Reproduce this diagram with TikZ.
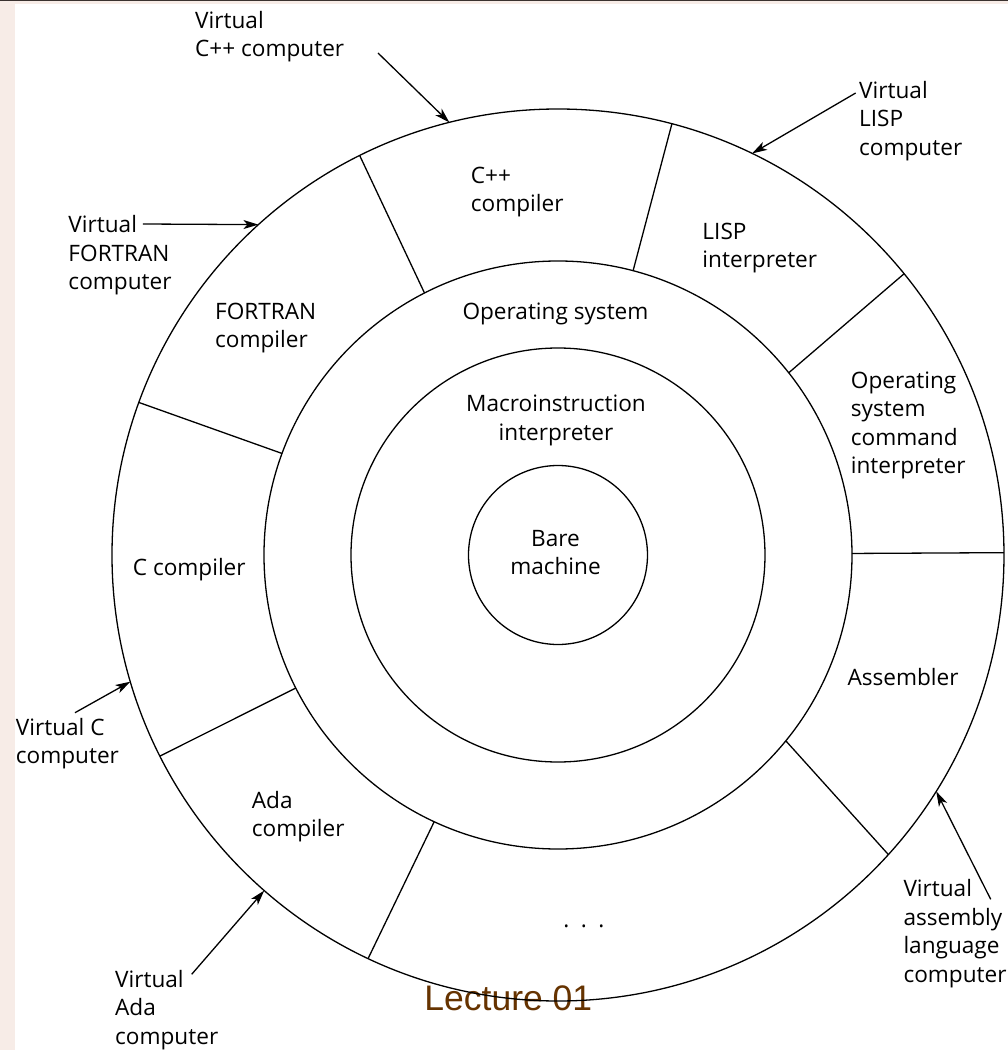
\documentclass[tikz,border=0pt]{standalone}
\usepackage{fontspec}
\setmainfont{Open Sans}
\newfontfamily\lecfont{Liberation Sans}
\usetikzlibrary{arrows.meta}
\definecolor{slidepink}{RGB}{247,236,231}
\definecolor{slideline}{RGB}{58,50,48}
\definecolor{lecbrown}{RGB}{102,51,0}
\tikzset{
  ring/.style={line width=1.3pt, draw=black},
  divider/.style={line width=1.3pt},
  pointer/.style={line width=1.3pt, -{Stealth[length=15pt,width=9pt,inset=4pt]}},
  lbl/.style={inner sep=0pt, anchor=base west, align=left,
              font=\fontsize{22.6}{28.5}\selectfont},
  clbl/.style={inner sep=0pt, anchor=base, align=center,
               font=\fontsize{22.6}{28.5}\selectfont},
}
\begin{document}
\begin{tikzpicture}[x=1pt,y=1pt]
% page and slide edges
\useasboundingbox (-558,-495) rectangle (450,555);
\fill[white] (-558,-495) rectangle (450,555);
\fill[slidepink] (-558,-495) rectangle (-543,555);
\fill[slidepink] (-558,551) rectangle (450,553.5);
\fill[slideline] (-558,553.5) rectangle (450,555);

% footer
\node[inner sep=0pt, anchor=base west, text=lecbrown,
      font=\lecfont\fontsize{35.5}{40}\selectfont] (lec) at (-133.7,-455.7) {Lecture 01};

% concentric layers
\draw[ring] (0,0) circle (446);
\draw[ring] (0,0) circle (294);
\draw[ring] (0,0) circle (207);
\draw[ring] (0,0) circle (89.5);

% sector boundaries of the outer ring
\draw[divider] (75.2:294) -- (75.2:446);
\draw[divider] (38.3:294) -- (39.1:446);
\draw[divider] (0.3:294) -- (0.3:446);
\draw[divider] (-39.2:294) -- (-42.2:446);
\draw[divider] (245.1:294) -- (244.8:446);
\draw[divider] (206.9:294) -- (206.8:446);
\draw[divider] (159.8:294) -- (160.0:446);
\draw[divider] (117.0:294) -- (116.4:446);

% layer labels (node base = baseline of the last line)
\node[clbl] (bare) at (-2.5,-19.5) {Bare\\machine};
\node[clbl] (macro) at (-2,114.8) {Macroinstruction\\interpreter};
\node[clbl] (os) at (-2.5,235) {Operating system};
\node[lbl] (cpp) at (-87.3,343.2) {C++\\compiler};
\node[lbl] (lisp) at (144.3,287.2) {LISP\\interpreter};
\node[lbl] (oscmd) at (292.7,81.2) {Operating\\system\\command\\interpreter};
\node[lbl] (asm) at (289.3,-130) {Assembler};
\node[clbl] (dots) at (26,-372) {.\hspace{11.5pt}.\hspace{11.5pt}.};
\node[lbl] (ada) at (-306.3,-281.8) {Ada\\compiler};
\node[lbl] (cc) at (-425.3,-20.7) {C compiler};
\node[lbl] (fortran) at (-343,207.2) {FORTRAN\\compiler};

% virtual machine labels
\node[lbl] (vcpp) at (-363,498.2) {Virtual\\C++ computer};
\node[lbl] (vlisp) at (301,399.7) {Virtual\\LISP\\computer};
\node[lbl] (vfortran) at (-489.7,265.3) {Virtual\\FORTRAN\\computer};
\node[lbl] (vc) at (-542.3,-208.5) {Virtual C\\computer};
\node[lbl] (vada) at (-443,-489.3) {Virtual\\Ada\\computer};
\node[lbl] (vasm) at (345.3,-427.2) {Virtual\\assembly\\language\\computer};

% pointer tails and tips on the outer circle
\coordinate (tcpp) at (-180,502);
\coordinate (hcpp) at (104.1:446);
\coordinate (tfortran) at (-415,331);
\coordinate (hfortran) at (132.2:446);
\coordinate (tlisp) at (297.7,462);
\coordinate (hlisp) at (64.2:446);
\coordinate (tc) at (-483,-157.7);
\coordinate (hc) at (196.5:446);
\coordinate (tada) at (-366.3,-419.3);
\coordinate (hada) at (228.8:446);
\coordinate (tasm) at (432.7,-344.3);
\coordinate (hasm) at (328:446);

\draw[pointer] (tcpp) -- (hcpp);
\draw[pointer] (tfortran) -- (hfortran);
\draw[pointer] (tlisp) -- (hlisp);
\draw[pointer] (tc) -- (hc);
\draw[pointer] (tada) -- (hada);
\draw[pointer] (tasm) -- (hasm);
\end{tikzpicture}
\end{document}
